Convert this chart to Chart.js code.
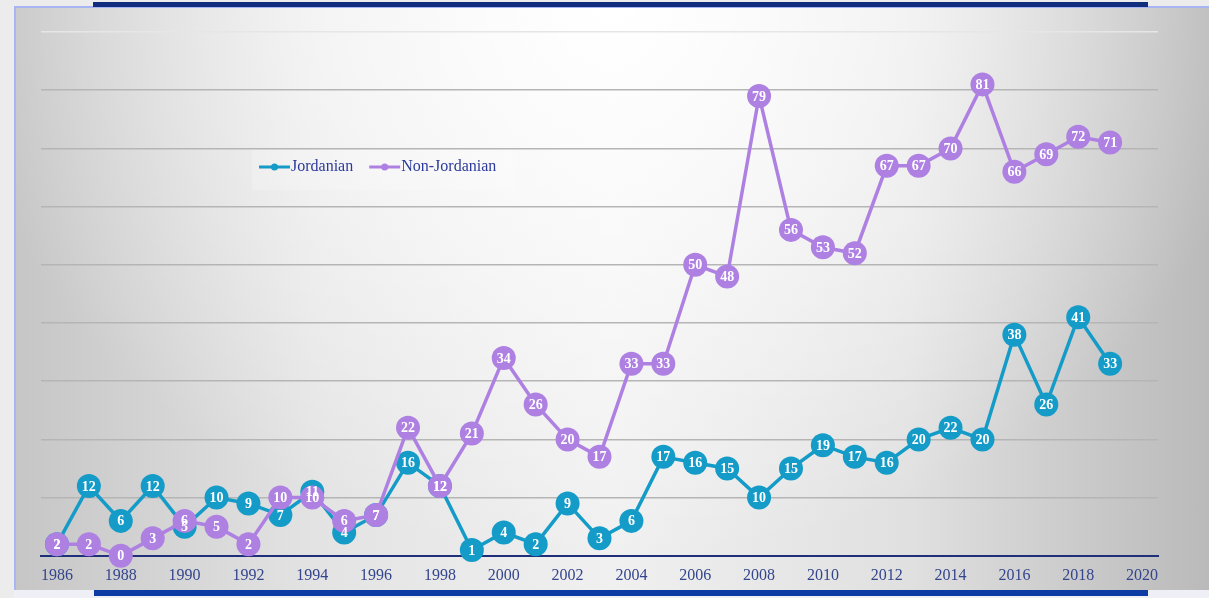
<!DOCTYPE html>
<html>
<head>
<meta charset="utf-8">
<script src="https://cdn.jsdelivr.net/npm/chart.js@4/dist/chart.umd.min.js"></script>
<style>
  html, body { margin: 0; padding: 0; }
  body { width: 1209px; height: 598px; background: #ececec; position: relative; overflow: hidden; }
  #panel {
    position: absolute; left: 14px; top: 6px; width: 1195px; height: 584px;
    border-left: 2px solid #a9b5f2; border-top: 2px solid #a9b5f2;
    box-sizing: border-box;
    background:
      radial-gradient(ellipse 55% 95% at 50% 0%, rgba(255,255,255,1) 0%, rgba(255,255,255,0.6) 45%, rgba(255,255,255,0) 100%),
      linear-gradient(to right, #c6c6c6 0%, #e3e3e3 25%, #f0f0f0 50%, #e0e0e0 75%, #bababa 100%);
  }
  #topbar { position: absolute; left: 93px; top: 2px; width: 1055px; height: 5px; background: #112d7d; }
  #bottombar { position: absolute; left: 94px; top: 590px; width: 1054px; height: 6px; background: #0c3ca4; }
  #bottomstrip { position: absolute; left: 14px; top: 590px; width: 1195px; height: 8px; background: #eef0f6; }
  #wrap { position: absolute; left: 0; top: 0; width: 1209px; height: 598px; }
</style>
</head>
<body>
<div id="panel"></div>
<div id="topbar"></div>
<div id="bottomstrip"></div>
<div id="bottombar"></div>
<div id="wrap"><canvas id="myLineChart" width="1209" height="598"></canvas></div>
<script>
// yearly counts
var years = [1986, 1987, 1988, 1989, 1990, 1991, 1992, 1993, 1994, 1995, 1996, 1997,
             1998, 1999, 2000, 2001, 2002, 2003, 2004, 2005, 2006, 2007, 2008, 2009,
             2010, 2011, 2012, 2013, 2014, 2015, 2016, 2017, 2018, 2019];
var jordanian = [2, 12, 6, 12, 5, 10, 9, 7, 11, 4, 7, 16,
                 12, 1, 4, 2, 9, 3, 6, 17, 16, 15, 10, 15,
                 19, 17, 16, 20, 22, 20, 38, 26, 41, 33];
var nonJordanian = [2, 2, 0, 3, 6, 5, 2, 10, 10, 6, 7, 22,
                    12, 21, 34, 26, 20, 17, 33, 33, 50, 48, 79, 56,
                    53, 52, 67, 67, 70, 81, 66, 69, 72, 71];
var xTicks = [1986, 1988, 1990, 1992, 1994, 1996, 1998, 2000, 2002, 2004, 2006,
              2008, 2010, 2012, 2014, 2016, 2018, 2020];
var seriesNames = ['Jordanian', 'Non-Jordanian'];

var blue = '#149bc7';
var purple = '#ad80e2';

function toPoints(values){
    return values.map(function(v, i){ return {x: years[i], y: v}; });
}

// white value printed inside every marker
var pointLabels = {
    id: 'pointLabels',
    afterDatasetsDraw: function(chart){
        var ctx = chart.ctx;
        ctx.save();
        ctx.font = 'bold 14px "Liberation Serif", serif';
        ctx.fillStyle = '#ffffff';
        ctx.textAlign = 'center';
        ctx.textBaseline = 'middle';
        [1, 0].forEach(function(di){
            var meta = chart.getDatasetMeta(di);
            meta.data.forEach(function(pt, i){
                ctx.fillText(chart.data.datasets[di].data[i].y, pt.x, pt.y + 1);
            });
        });
        ctx.restore();
    }
};

// legend sitting inside the plot
var innerLegend = {
    id: 'innerLegend',
    afterDraw: function(chart){
        var ctx = chart.ctx;
        ctx.save();
        ctx.fillStyle = 'rgba(255,255,255,0.2)';
        ctx.fillRect(252, 150, 263, 40);
        ctx.font = '16px "Liberation Serif", serif';
        ctx.textBaseline = 'middle';
        var x = 259, y = 167;
        chart.data.datasets.forEach(function(ds){
            ctx.strokeStyle = ds.borderColor;
            ctx.lineWidth = 3;
            ctx.beginPath();
            ctx.moveTo(x, y);
            ctx.lineTo(x + 31, y);
            ctx.stroke();
            ctx.fillStyle = ds.borderColor;
            ctx.beginPath();
            ctx.arc(x + 15.5, y, 3.5, 0, Math.PI * 2);
            ctx.fill();
            ctx.fillStyle = '#2b3a9a';
            ctx.fillText(ds.label, x + 32, y);
            x += 32 + ctx.measureText(ds.label).width + 16;
        });
        ctx.restore();
    }
};

var data = {
    datasets: [
        {
            label: seriesNames[0],
            data: toPoints(jordanian),
            borderColor: blue,
            backgroundColor: blue,
            pointBackgroundColor: blue,
            borderWidth: 3.5,
            pointRadius: 12,
            pointBorderWidth: 0,
            pointHoverRadius: 12,
            clip: false,
            order: 1
        },
        {
            label: seriesNames[1],
            data: toPoints(nonJordanian),
            borderColor: purple,
            backgroundColor: purple,
            pointBackgroundColor: purple,
            borderWidth: 3.5,
            pointRadius: 12,
            pointBorderWidth: 0,
            pointHoverRadius: 12,
            clip: false,
            order: 0
        }
    ]
};

var ctx = document.getElementById('myLineChart');
var myLineChart = new Chart(ctx, {
    type: 'line',
    data: data,
    plugins: [pointLabels, innerLegend],
    options: {
        responsive: false,
        animation: false,
        events: [],
        layout: { padding: { left: 41, right: 51, top: 32, bottom: 3 } },
        plugins: {
            legend: { display: false },
            tooltip: { enabled: false }
        },
        scales: {
            x: {
                type: 'linear',
                min: 1985.5,
                max: 2020.5,
                afterBuildTicks: function(scale){
                    scale.ticks = xTicks.map(function(v){ return {value: v}; });
                },
                grid: { display: false, drawTicks: false },
                border: { display: true, color: '#1f2f7a', width: 2 },
                ticks: {
                    padding: 10,
                    maxRotation: 0,
                    autoSkip: false,
                    color: '#33458c',
                    font: { family: '"Liberation Serif", serif', size: 16 },
                    callback: function(v){ return String(v); }
                }
            },
            y: {
                min: 0,
                max: 90,
                ticks: { display: false, stepSize: 10 },
                border: { display: false },
                grid: {
                    drawTicks: false,
                    lineWidth: 1.5,
                    color: function(c){
                        if (c.tick.value === 0) return 'rgba(0,0,0,0)';
                        if (c.tick.value === 90) return '#e6e6e6';
                        return '#b5b5b5';
                    }
                }
            }
        }
    }
});
</script>
</body>
</html>
